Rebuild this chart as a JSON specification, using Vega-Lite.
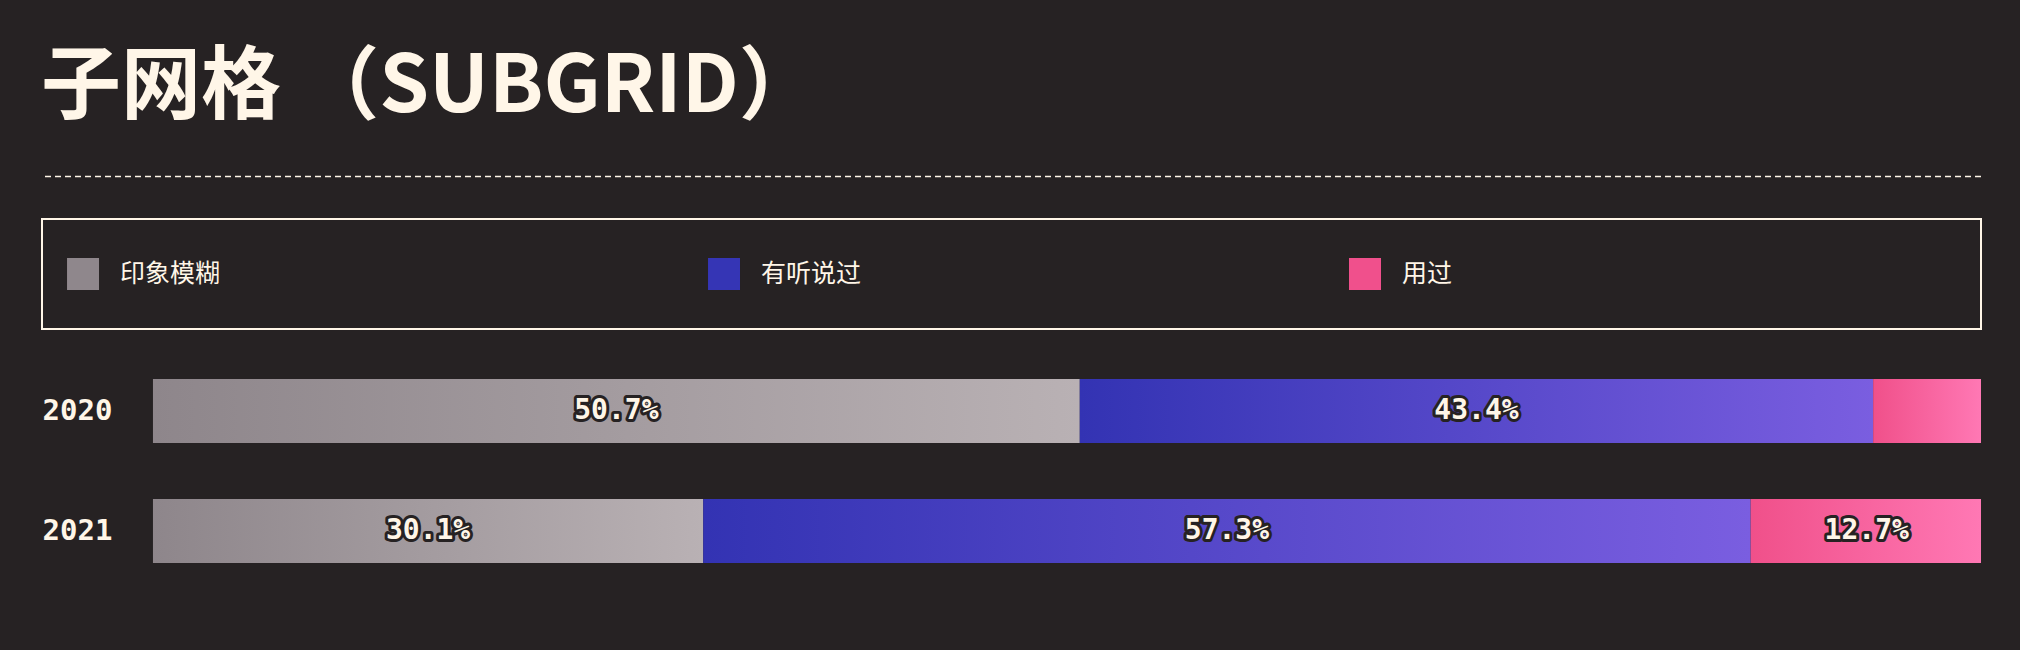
{
  "$schema": "https://vega.github.io/schema/vega-lite/v6.json",
  "background": "#262223",
  "padding": {"left": 41, "right": 40, "top": 47, "bottom": 60},
  "title": {
    "text": "子网格 （SUBGRID）",
    "anchor": "start",
    "font": "'Noto Sans CJK SC'",
    "fontSize": 80,
    "fontWeight": "bold",
    "color": "#fff6e8",
    "offset": 47
  },
  "config": {
    "view": {"stroke": null},
    "text": {"color": "#fff6e8"}
  },
  "spacing": 40,
  "vconcat": [
    {
      "width": 1939,
      "height": 1,
      "data": {"values": [{"v": 0}]},
      "mark": {"type": "rule", "color": "#fff6e8", "strokeWidth": 1.5, "strokeDash": [6, 4]},
      "encoding": {
        "y": {"field": "v", "type": "quantitative", "axis": null}
      }
    },
    {
      "spacing": 21,
      "vconcat": [
        {
          "width": 1939,
          "height": 110,
          "view": {"stroke": "#fff6e8", "strokeWidth": 2},
          "data": {"values": [
            {"cat": "印象模糊", "i": 0},
            {"cat": "有听说过", "i": 1},
            {"cat": "用过", "i": 2}
          ]},
          "encoding": {
            "x": {"field": "i", "type": "quantitative", "scale": {"domain": [-0.064, 2.961], "nice": false, "zero": false}, "axis": null}
          },
          "layer": [
            {
              "mark": {"type": "square", "size": 1024, "opacity": 1, "filled": true},
              "encoding": {
                "color": {"field": "cat", "type": "nominal", "legend": null,
                  "scale": {"domain": ["印象模糊", "有听说过", "用过"], "range": ["#8f878c", "#3535b5", "#f0508c"]}}
              }
            },
            {
              "mark": {"type": "text", "align": "left", "baseline": "middle", "dx": 37, "fontSize": 25, "font": "'Noto Sans CJK SC'", "color": "#fff6e8"},
              "encoding": {
                "text": {"field": "cat", "type": "nominal"}
              }
            }
          ]
        },
        {
          "width": 1939,
          "height": 240,
          "data": {"values": [
            {"year": "2020", "cat": "印象模糊", "ord": 0, "pct": 0.507},
            {"year": "2020", "cat": "有听说过", "ord": 1, "pct": 0.434},
            {"year": "2020", "cat": "用过", "ord": 2, "pct": 0.059},
            {"year": "2021", "cat": "印象模糊", "ord": 0, "pct": 0.301},
            {"year": "2021", "cat": "有听说过", "ord": 1, "pct": 0.573},
            {"year": "2021", "cat": "用过", "ord": 2, "pct": 0.127}
          ]},
          "encoding": {
            "y": {"field": "year", "type": "nominal", "title": null,
              "scale": {"paddingInner": 0.4667, "paddingOuter": 0.2333},
              "axis": {"ticks": false, "tickSize": 0, "domain": false, "labelPadding": 0, "labelAlign": "left", "labelFont": "'DejaVu Sans Mono'", "labelFontWeight": "bold", "labelFontSize": 29, "labelColor": "#fff6e8"}},
            "detail": {"field": "cat", "type": "nominal"},
            "order": {"field": "ord", "type": "quantitative"}
          },
          "layer": [
            {
              "mark": {"type": "bar"},
              "encoding": {
                "x": {"field": "pct", "type": "quantitative", "stack": "zero", "scale": {"domain": [-0.0607, 1], "clamp": true, "nice": false, "zero": false}, "axis": null},
                "color": {
                  "condition": [
                    {"test": "datum.cat === '印象模糊'", "value": {"gradient": "linear", "x1": 0, "y1": 0, "x2": 1, "y2": 0, "stops": [{"offset": 0, "color": "#8e868b"}, {"offset": 1, "color": "#b9b1b4"}]}},
                    {"test": "datum.cat === '有听说过'", "value": {"gradient": "linear", "x1": 0, "y1": 0, "x2": 1, "y2": 0, "stops": [{"offset": 0, "color": "#3333b3"}, {"offset": 1, "color": "#7a5ee0"}]}}
                  ],
                  "value": {"gradient": "linear", "x1": 0, "y1": 0, "x2": 1, "y2": 0, "stops": [{"offset": 0, "color": "#f0508a"}, {"offset": 1, "color": "#ff78b4"}]}
                }
              }
            },
            {
              "mark": {"type": "text", "fontSize": 28, "font": "'DejaVu Sans Mono'", "fontWeight": "bold", "stroke": "#262223", "strokeWidth": 6, "strokeJoin": "round", "fill": "#262223", "baseline": "middle"},
              "encoding": {
                "x": {"field": "pct", "type": "quantitative", "stack": "zero", "bandPosition": 0.5},
                "text": {"condition": {"test": "datum.pct < 0.07", "value": ""}, "field": "pct", "type": "quantitative", "format": ".1%"}
              }
            },
            {
              "mark": {"type": "text", "fontSize": 28, "font": "'DejaVu Sans Mono'", "fontWeight": "bold", "fill": "#fff6e8", "baseline": "middle"},
              "encoding": {
                "x": {"field": "pct", "type": "quantitative", "stack": "zero", "bandPosition": 0.5},
                "text": {"condition": {"test": "datum.pct < 0.07", "value": ""}, "field": "pct", "type": "quantitative", "format": ".1%"}
              }
            }
          ]
        }
      ]
    }
  ]
}
